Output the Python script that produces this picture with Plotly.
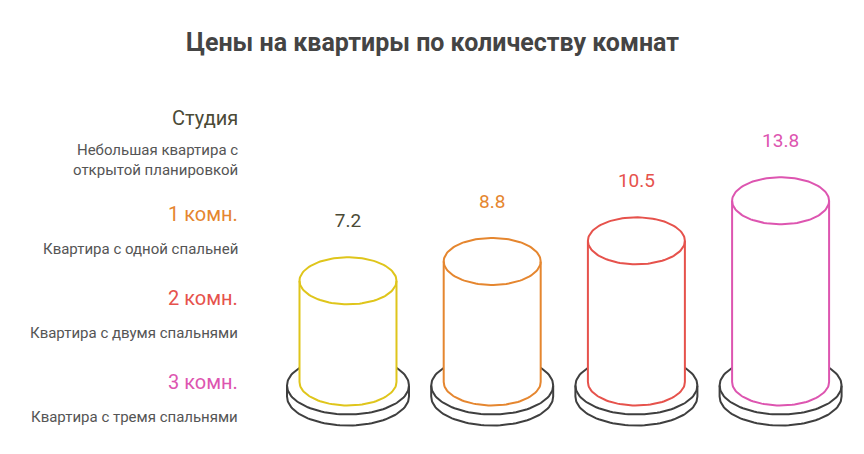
import numpy as np
import plotly.graph_objects as go

# ---- data ----
categories = ["Студия", "1 комн.", "2 комн.", "3 комн."]
descriptions = ["Небольшая квартира с<br>открытой планировкой",
                "Квартира с одной спальней",
                "Квартира с двумя спальнями",
                "Квартира с тремя спальнями"]
prices = [7.2, 8.8, 10.5, 13.8]
value_labels = ["7.2", "8.8", "10.5", "13.8"]
colors = ["#dfc51b", "#e5862f", "#e6524c", "#dd55b0"]
label_colors = ["#4b4a36", "#e5862f", "#e6524c", "#dd55b0"]

# ---- style / geometry constants (axis units) ----
BASE = -1.147          # y of cylinder bottom-ellipse centre
CYL_RX, CYL_RY = 0.3363, 1.94
DISC_RX, DISC_RY = 0.423, 2.39
DISC_DY, DISC_T = -0.29, 0.91
LABEL_OFF = 4.81
GRAY = "#3f3f3f"

fig = go.Figure()

def arc(cx, cy, rx, ry, t0, t1, n=60):
    t = np.linspace(t0, t1, n)
    return cx + rx * np.cos(t), cy + ry * np.sin(t)

for i, (v, col) in enumerate(zip(prices, colors)):
    cx = i
    # disc silhouette
    dcy = BASE + DISC_DY
    ux, uy = arc(cx, dcy, DISC_RX, DISC_RY, 0, np.pi)
    lx, ly = arc(cx, dcy - DISC_T, DISC_RX, DISC_RY, np.pi, 2 * np.pi)
    sx = np.concatenate([ux, lx, [ux[0]]])
    sy = np.concatenate([uy, ly, [uy[0]]])
    fig.add_trace(go.Scatter(x=sx, y=sy, mode="lines", fill="toself", fillcolor="white",
                             line=dict(color=GRAY, width=2), hoverinfo="skip", showlegend=False))
    bx, by = arc(cx, dcy, DISC_RX, DISC_RY, np.pi, 2 * np.pi)
    fig.add_trace(go.Scatter(x=bx, y=by, mode="lines", line=dict(color=GRAY, width=2),
                             hoverinfo="skip", showlegend=False))
    # cylinder silhouette
    tx, ty = arc(cx, v, CYL_RX, CYL_RY, 0, np.pi)
    lx2, ly2 = arc(cx, BASE, CYL_RX, CYL_RY, np.pi, 2 * np.pi)
    sx = np.concatenate([tx, lx2, [tx[0]]])
    sy = np.concatenate([ty, ly2, [ty[0]]])
    fig.add_trace(go.Scatter(x=sx, y=sy, mode="lines", fill="toself", fillcolor="white",
                             line=dict(color=col, width=2), hoverinfo="skip", showlegend=False))
    fx, fy = arc(cx, v, CYL_RX, CYL_RY, np.pi, 2 * np.pi)
    fig.add_trace(go.Scatter(x=fx, y=fy, mode="lines", line=dict(color=col, width=2),
                             hoverinfo="skip", showlegend=False))
    # value label
    fig.add_trace(go.Scatter(x=[cx], y=[v + LABEL_OFF], mode="text", text=[value_labels[i]],
                             textfont=dict(family="Roboto", size=19, color=label_colors[i]),
                             textposition="middle center", hoverinfo="skip", showlegend=False))

# left-hand legend texts
cat_y = [118, 214, 298, 382]
desc_y = [160, 249, 333, 417]
H = 454
for i in range(len(categories)):
    fig.add_annotation(x=240 / 864, y=1 - cat_y[i] / H, xref="paper", yref="paper",
                       text=categories[i], showarrow=False, xanchor="right", yanchor="middle",
                       font=dict(family="Roboto", size=20, color=label_colors[i]))
    fig.add_annotation(x=240 / 864, y=1 - desc_y[i] / H, xref="paper", yref="paper",
                       text=descriptions[i], showarrow=False, xanchor="right", yanchor="middle",
                       align="right",
                       font=dict(family="Roboto", size=15, color="#555555"))

fig.add_annotation(x=432 / 864, y=1 - 42 / H, xref="paper", yref="paper",
                   text="<b>Цены на квартиры по количеству комнат</b>", showarrow=False,
                   xanchor="center", yanchor="middle",
                   font=dict(family="Roboto", size=25, color="#444444"))

fig.update_layout(
    width=864, height=454, margin=dict(l=0, r=0, t=0, b=0),
    paper_bgcolor="white", plot_bgcolor="white",
    xaxis=dict(range=[-2.4133, 3.5784], visible=False, fixedrange=True),
    yaxis=dict(range=[-7.09, 30.37], visible=False, fixedrange=True),
    showlegend=False,
)

fig.write_html("out.html")
